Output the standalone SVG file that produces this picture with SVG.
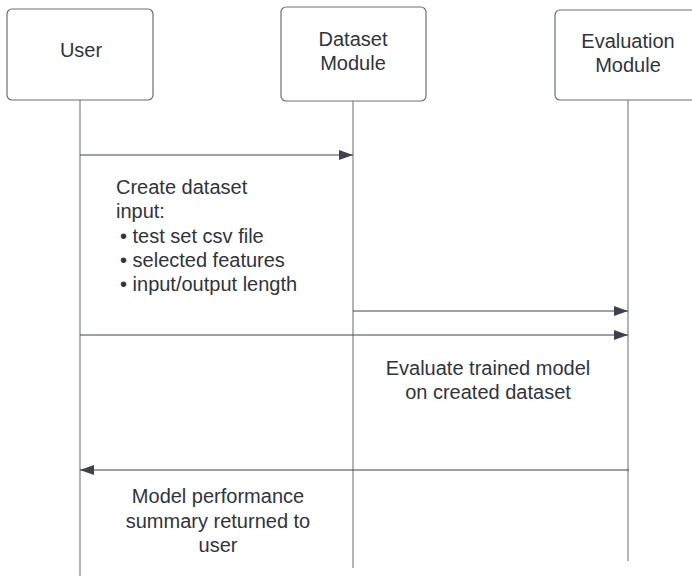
<svg xmlns="http://www.w3.org/2000/svg" width="692" height="576" viewBox="0 0 692 576">
  <defs>
    <style>
      .box { fill: #ffffff; stroke: #6b6f76; stroke-width: 1.2; }
      .life { stroke: #8a8d93; stroke-width: 1.3; fill: none; }
      .msg { stroke: #3d434e; stroke-width: 1.2; fill: none; }
      .lbl { font-family: "Liberation Sans", Arial, sans-serif; font-size: 20px; fill: #2f343d; }
      .mid { text-anchor: middle; }
    </style>
    <marker id="arrow" viewBox="0 0 14 10" refX="14" refY="5" markerWidth="14" markerHeight="10" markerUnits="userSpaceOnUse" orient="auto">
      <path d="M0,0 L14,5 L0,10 Z" fill="#3d434e"/>
    </marker>
  </defs>
  <rect width="692" height="576" fill="#ffffff"/>

  <g id="lifelines">
    <line class="life" x1="80" y1="100" x2="80" y2="576"/>
    <line class="life" x1="353" y1="101" x2="353" y2="568" stroke="#3d434e"/>
    <line class="life" x1="628" y1="100" x2="628" y2="561"/>
  </g>

  <g id="user">
    <rect class="box" x="7" y="9" width="146" height="91" rx="5"/>
    <text class="lbl mid" x="81" y="57">User</text>
  </g>

  <g id="dataset-module">
    <rect class="box" x="281" y="7" width="145" height="94" rx="5"/>
    <text class="lbl mid" x="353" y="46">Dataset</text>
    <text class="lbl mid" x="353" y="70">Module</text>
  </g>

  <g id="evaluation-module">
    <rect class="box" x="555" y="10" width="145" height="90" rx="5"/>
    <text class="lbl mid" x="628" y="48">Evaluation</text>
    <text class="lbl mid" x="628" y="72">Module</text>
  </g>

  <g id="connectors">
    <line class="msg" x1="80" y1="155" x2="353" y2="155" marker-end="url(#arrow)"/>
    <line class="msg" x1="353" y1="311" x2="628" y2="311" marker-end="url(#arrow)"/>
    <line class="msg" x1="80" y1="335" x2="628" y2="335" marker-end="url(#arrow)"/>
    <line class="msg" x1="629" y1="470" x2="80" y2="470" marker-end="url(#arrow)"/>
  </g>

  <g id="labels">
    <text class="lbl" x="116" y="194">Create dataset</text>
    <text class="lbl" x="116" y="218">input:</text>
    <text class="lbl" x="120" y="243">• test set csv file</text>
    <text class="lbl" x="120" y="267">• selected features</text>
    <text class="lbl" x="120" y="291">• input/output length</text>

    <text class="lbl mid" x="488" y="375">Evaluate trained model</text>
    <text class="lbl mid" x="488" y="399">on created dataset</text>

    <text class="lbl mid" x="218" y="503">Model performance</text>
    <text class="lbl mid" x="218" y="528">summary returned to</text>
    <text class="lbl mid" x="218" y="552">user</text>
  </g>
</svg>
